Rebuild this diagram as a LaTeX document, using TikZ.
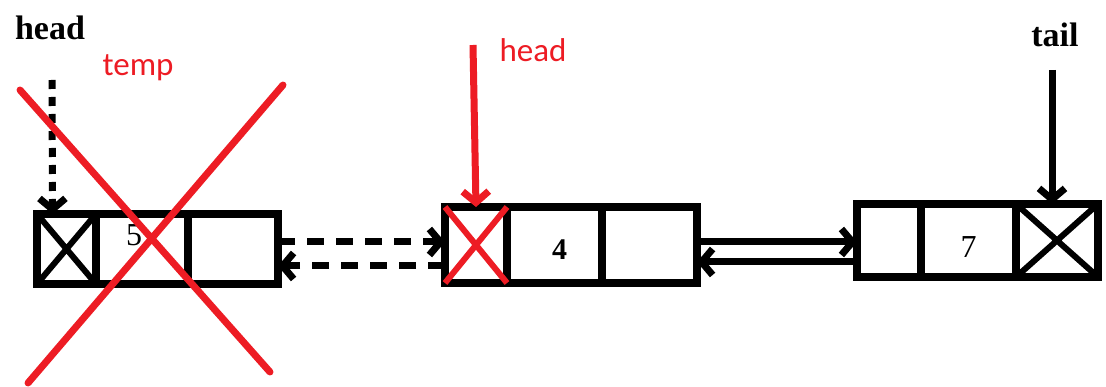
\documentclass[tikz,border=0pt]{standalone}
\usepackage{fontspec}
\setmainfont{Liberation Serif}
\newfontfamily\calibri{Carlito}
\usetikzlibrary{arrows.meta,positioning}
\definecolor{paintred}{RGB}{237,28,36}
\begin{document}
\begin{tikzpicture}
  [x=1pt,y=-1pt,every node/.style={inner sep=0pt,outer sep=0pt}]
  \tikzstyle{cell} = [draw,line width=8pt]
  \tikzstyle{val} = [font=\fontsize{32}{38}\selectfont]
  \tikzstyle{link} = [line width=7pt,-{Straight Barb[length=11pt,width=26pt]}]
  \tikzstyle{ptr} = [font=\fontsize{34}{40}\selectfont\bfseries]
  \tikzstyle{redptr} = [font=\fontsize{33}{40}\selectfont\calibri,text=paintred]
  \useasboundingbox[fill=white] (0,0) rectangle (1106,387);
  % node 5
  \node[cell,minimum width=59,minimum height=70] (p1) at (66.5,249) {};
  \node[cell,minimum width=92,minimum height=70,
        label={[val,xshift=-8pt,yshift=14pt]center:5}] (d1) at (142,249) {};
  \node[cell,minimum width=90,minimum height=70] (n1) at (233,249) {};
  % node 4
  \node[cell,minimum width=62,minimum height=76] (p2) at (476,245) {};
  \node[cell,minimum width=95,minimum height=76,
        label={[val,font=\fontsize{30}{36}\selectfont\bfseries,xshift=5pt,yshift=-5pt]center:4}] (d2) at (554.5,245) {};
  \node[cell,minimum width=95,minimum height=76] (n2) at (649.5,245) {};
  % node 7
  \node[cell,minimum width=64,minimum height=73] (p3) at (889,240.5) {};
  \node[cell,minimum width=95,minimum height=73,
        label={[val,yshift=-7pt]center:7}] (d3) at (968.5,240.5) {};
  \node[cell,minimum width=82,minimum height=73] (n3) at (1057,240.5) {};
  \foreach \c in {p1,n3}
   \draw[line width=6pt] (\c.north west) -- (\c.south east) (\c.north east) -- (\c.south west);
  % pointers
  \node[ptr] (head) at (50,28) {head};
  \node[redptr] (temp) at (138,68) {temp};
  \node[redptr] (newhead) at (533,50) {head};
  \node[ptr] (tail) at (1055,35) {tail};
  \coordinate (headtop) at (52,80);
  \coordinate (newtop) at (473,45);
  \coordinate (tailtop) at (1052,70);
  \draw[link,dash pattern=on 9pt off 8pt] (headtop) -- ([xshift=-14pt]p1.north);
  \draw[link,paintred] (newtop) -- (p2.north);
  \draw[link] (tailtop) -- ([xshift=-5pt]n3.north);
  % links
  \draw[link,dash pattern=on 17pt off 12pt] ([yshift=7pt]n1.east) -- ([yshift=3pt]p2.west);
  \draw[link,dash pattern=on 17pt off 12pt] ([yshift=-21pt]p2.west) -- ([yshift=-17pt]n1.east);
  \draw[link] ([yshift=3pt]n2.east) -- ([yshift=-1.5pt]p3.west);
  \draw[link] ([yshift=-21.5pt]p3.west) -- ([yshift=-17pt]n2.east);
  % deleted
  \draw[paintred,line width=6pt] (p2.north west) -- (p2.south east) (p2.north east) -- (p2.south west);
  \draw[paintred,line width=7pt,line cap=round] (20,90) -- (270,372) (283,85) -- (28,383);
\end{tikzpicture}
\end{document}
